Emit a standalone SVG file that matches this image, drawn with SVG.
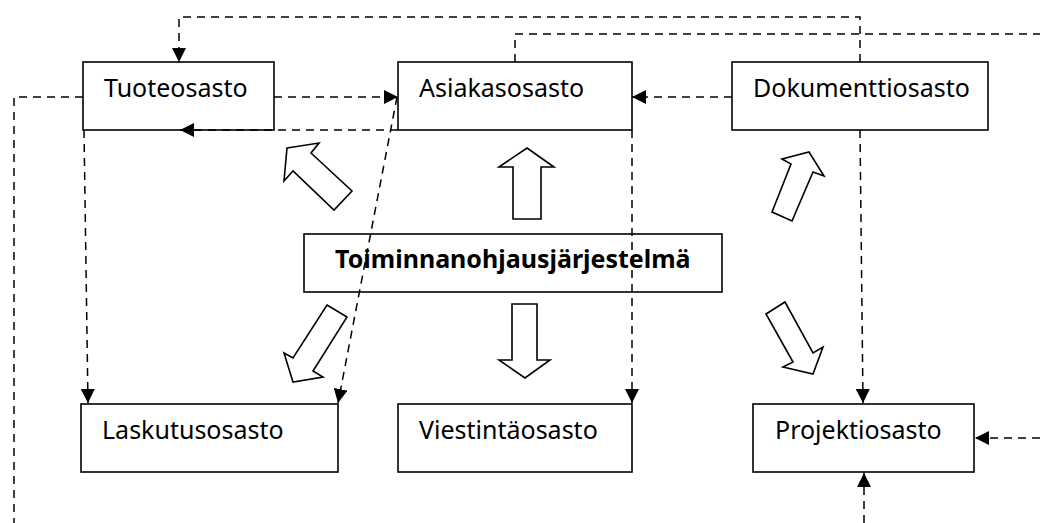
<svg xmlns="http://www.w3.org/2000/svg" width="1040" height="523" viewBox="0 0 1040 523">
<style>
.box{fill:#fff;stroke:#000;stroke-width:1.6}
.lbl{font-family:"Noto Sans","DejaVu Sans",sans-serif;font-size:25px;fill:#000}
.bold{font-weight:bold;font-size:25px}
.dash{fill:none;stroke:#000;stroke-width:1.5;stroke-dasharray:8 6}
.blk{fill:#fff;stroke:#000;stroke-width:1.6;stroke-linejoin:miter}
</style>
<defs>
<marker id="ah" markerUnits="userSpaceOnUse" markerWidth="15" markerHeight="14" refX="14" refY="7" orient="auto">
<path d="M0,0 L14,7 L0,14 z" fill="#000"/>
</marker>
</defs>
<rect width="1040" height="523" fill="#fff"/>
<g id="tuoteosasto"><rect class="box" x="83" y="62" width="191" height="68"/><text class="lbl" x="104" y="97">Tuoteosasto</text></g>
<g id="asiakasosasto"><rect class="box" x="398" y="62" width="234" height="68"/><text class="lbl" x="419" y="97">Asiakasosasto</text></g>
<g id="dokumenttiosasto"><rect class="box" x="732" y="62" width="256" height="68"/><text class="lbl" x="753" y="97">Dokumenttiosasto</text></g>
<g id="toiminnanohjaus"><rect class="box" x="304" y="234" width="418" height="58"/><text class="lbl bold" x="335" y="268">Toiminnanohjausjärjestelmä</text></g>
<g id="laskutusosasto"><rect class="box" x="81" y="404" width="257" height="68"/><text class="lbl" x="102" y="439">Laskutusosasto</text></g>
<g id="viestintaosasto"><rect class="box" x="398" y="404" width="234" height="68"/><text class="lbl" x="419" y="439">Viestintäosasto</text></g>
<g id="projektiosasto"><rect class="box" x="753" y="404" width="221" height="68"/><text class="lbl" x="775" y="439">Projektiosasto</text></g>
<g id="connectors">
<polygon class="blk" points="287,148 319,143 311,153 352,191 334,210 293,171 284,181"/>
<polygon class="blk" points="527,148 554,167 541,167 541,219 513,219 513,167 499,167"/>
<polygon class="blk" points="809,152 824,176 813,172 792,221 772,212 791,164 782,159"/>
<polygon class="blk" points="327,305 347,317 313,371 323,377 293,382 284,353 293,358"/>
<polygon class="blk" points="512,304 537,304 537,360 550,360 525,378 499,360 512,360"/>
<polygon class="blk" points="766,314 785,302 813,353 823,347 813,374 783,367 793,362"/>
<path class="dash" d="M860,62 L860,17 L179,17 L179,62" marker-end="url(#ah)"/>
<path class="dash" d="M515,62 L515,34 L1040,34"/>
<path class="dash" d="M274,97 L398,97" marker-end="url(#ah)"/>
<path class="dash" d="M398,130 L180,130" marker-end="url(#ah)"/>
<path class="dash" d="M732,97 L632,97" marker-end="url(#ah)"/>
<path class="dash" d="M83,97 L14,97 L14,523"/>
<path class="dash" d="M84,130 L88,403" marker-end="url(#ah)"/>
<path class="dash" d="M397,97 L338,403" marker-end="url(#ah)"/>
<path class="dash" d="M632,130 L632,403" marker-end="url(#ah)"/>
<path class="dash" d="M860,130 L863,403" marker-end="url(#ah)"/>
<path class="dash" d="M1040,438 L975,438" marker-end="url(#ah)"/>
<path class="dash" d="M864,523 L864,473" marker-end="url(#ah)"/>
</g>
</svg>
